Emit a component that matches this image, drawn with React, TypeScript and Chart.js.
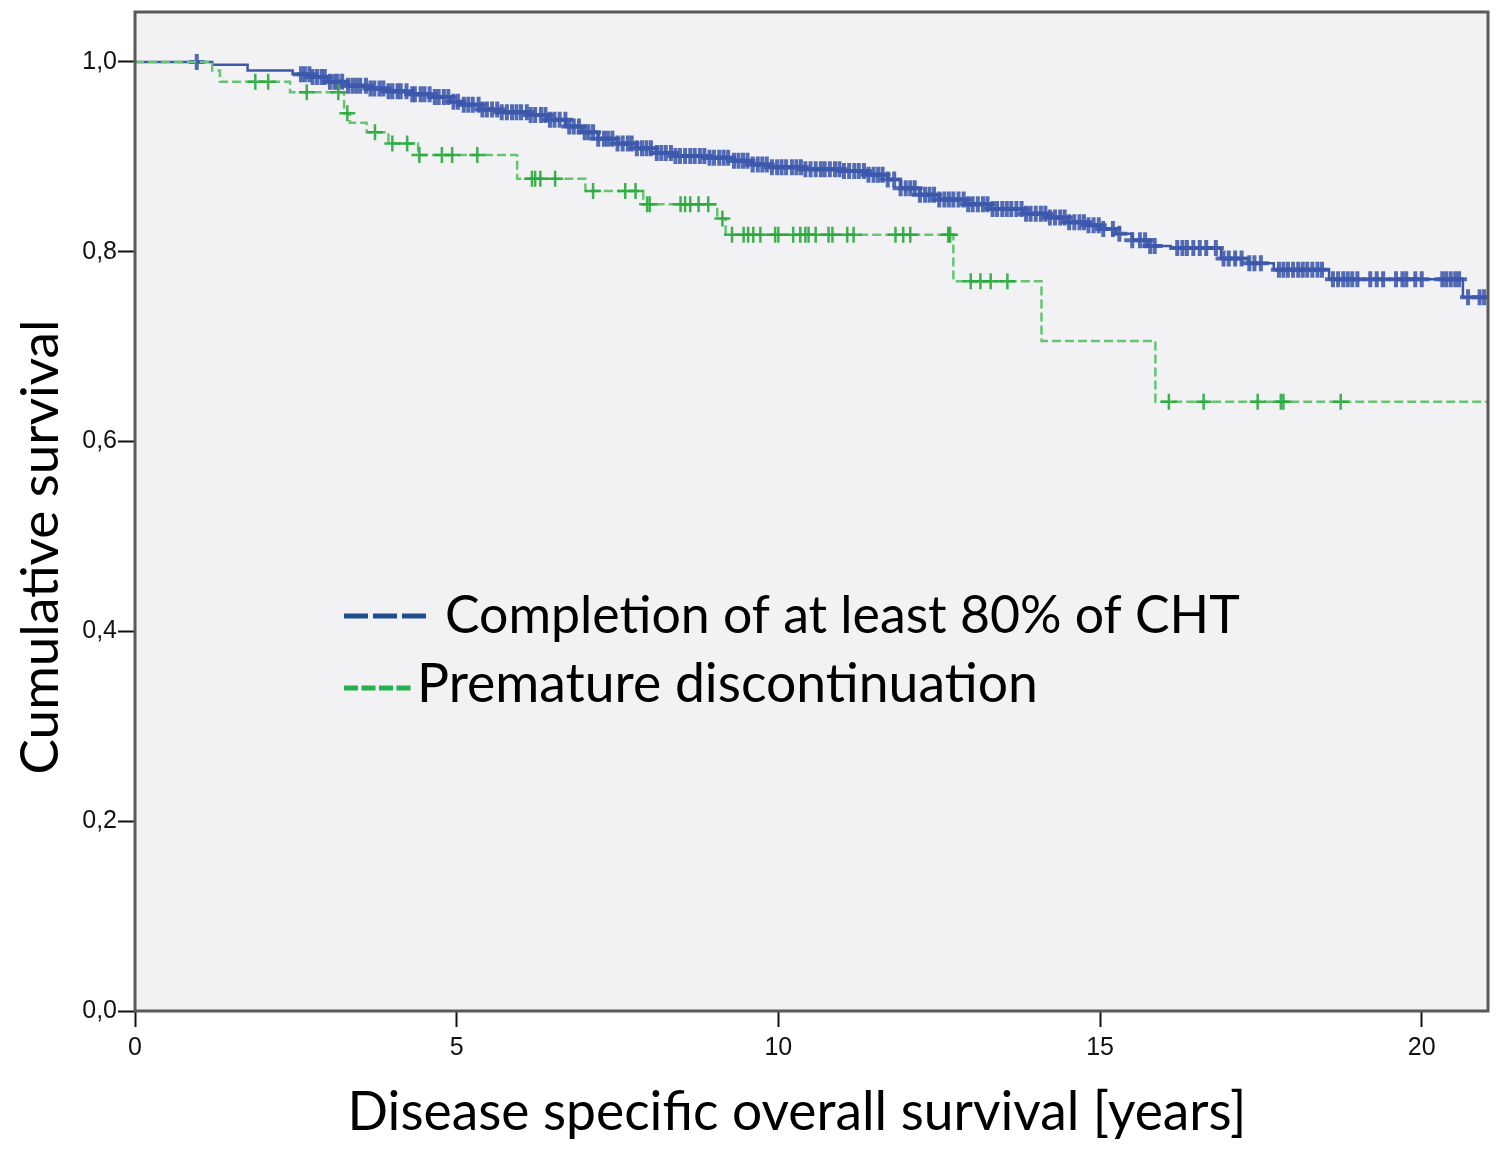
import React, { useEffect, useRef } from "react";
import { Chart, registerables } from "chart.js";

Chart.register(...registerables);

// Kaplan-Meier steps: survival holds from each time onwards
const completedTimes = [
  0, 1.2, 1.75, 2.45, 2.75, 3.0, 3.3, 3.6, 3.9, 4.3, 4.6, 4.9, 5.1, 5.4, 5.65,
  6.1, 6.4, 6.7, 6.95, 7.2, 7.5, 7.8, 8.1, 8.4, 8.9, 9.3, 9.6, 9.85, 10.4, 11.0,
  11.4, 11.7, 11.9, 12.2, 12.5, 12.9, 13.3, 13.8, 14.2, 14.5, 14.8, 15.0, 15.25,
  15.5, 15.75, 16.1, 16.88, 17.3, 17.7, 18.56, 20.64, 21.03,
];
const completedSurvival = [
  1.0, 0.997, 0.991, 0.987, 0.984, 0.979, 0.975, 0.972, 0.969, 0.966, 0.963,
  0.958, 0.955, 0.95, 0.947, 0.944, 0.939, 0.932, 0.926, 0.919, 0.914, 0.909,
  0.904, 0.901, 0.899, 0.896, 0.892, 0.889, 0.887, 0.885, 0.881, 0.876, 0.867,
  0.86, 0.855, 0.85, 0.845, 0.84, 0.836, 0.831, 0.828, 0.824, 0.819, 0.812,
  0.806, 0.804, 0.793, 0.788, 0.781, 0.771, 0.752, 0.752,
];
const completedCensored = [
  0.96, 2.58, 2.64, 2.71, 2.76, 2.83, 2.9, 2.95, 3.03, 3.1, 3.15, 3.22, 3.31,
  3.38, 3.44, 3.5, 3.59, 3.66, 3.72, 3.8, 3.86, 3.94, 4.0, 4.08, 4.13, 4.22,
  4.31, 4.35, 4.44, 4.5, 4.58, 4.66, 4.72, 4.8, 4.87, 4.95, 5.02, 5.11, 5.18,
  5.25, 5.34, 5.4, 5.47, 5.55, 5.63, 5.7, 5.78, 5.86, 5.93, 6.0, 6.09, 6.15,
  6.22, 6.31, 6.38, 6.45, 6.52, 6.6, 6.69, 6.75, 6.82, 6.9, 6.99, 7.05, 7.12,
  7.2, 7.29, 7.35, 7.42, 7.5, 7.58, 7.66, 7.72, 7.8, 7.88, 7.95, 8.02, 8.11,
  8.18, 8.25, 8.33, 8.4, 8.47, 8.55, 8.63, 8.7, 8.78, 8.85, 8.93, 9.0, 9.08,
  9.15, 9.22, 9.31, 9.38, 9.45, 9.52, 9.6, 9.68, 9.75, 9.82, 9.9, 9.98, 10.05,
  10.12, 10.21, 10.28, 10.35, 10.42, 10.5, 10.58, 10.66, 10.72, 10.8, 10.88,
  10.95, 11.02, 11.1, 11.18, 11.25, 11.33, 11.4, 11.48, 11.55, 11.62, 11.7,
  11.8, 11.9, 11.98, 12.05, 12.12, 12.2, 12.28, 12.35, 12.42, 12.5, 12.58,
  12.65, 12.72, 12.8, 12.88, 12.95, 13.02, 13.1, 13.18, 13.25, 13.33, 13.4,
  13.48, 13.55, 13.62, 13.7, 13.78, 13.85, 13.92, 14.0, 14.08, 14.15, 14.22,
  14.3, 14.38, 14.45, 14.52, 14.6, 14.68, 14.75, 14.82, 14.9, 14.98, 15.05,
  15.2, 15.3, 15.5, 15.62, 15.7, 15.78, 15.85, 16.2, 16.28, 16.35, 16.45, 16.55,
  16.65, 16.8, 16.92, 17.0, 17.1, 17.2, 17.32, 17.4, 17.5, 17.78, 17.85, 17.92,
  18.0, 18.08, 18.15, 18.22, 18.3, 18.38, 18.45, 18.62, 18.7, 18.78, 18.85,
  18.92, 19.0, 19.2, 19.3, 19.4, 19.6, 19.7, 19.76, 19.9, 20.0, 20.32, 20.38,
  20.45, 20.52, 20.58, 20.72, 20.9, 20.97,
];

const prematureTimes = [
  0, 1.2, 1.32, 2.41, 3.25, 3.34, 3.6, 3.94, 4.4, 5.94, 7.0, 7.9, 9.05, 9.18,
  12.72, 14.09, 15.86, 21.03,
];
const prematureSurvival = [
  1.0, 0.991, 0.979, 0.968, 0.946, 0.936, 0.926, 0.914, 0.902, 0.877, 0.864,
  0.85, 0.835, 0.818, 0.769, 0.706, 0.642, 0.642,
];
const prematureCensored = [
  1.87, 2.07, 2.67, 3.16, 3.3, 3.73, 4.0, 4.23, 4.42, 4.77, 4.93, 5.32, 6.17,
  6.22, 6.3, 6.53, 7.12, 7.62, 7.78, 7.96, 8.0, 8.48, 8.55, 8.63, 8.76, 8.91,
  9.13, 9.28, 9.46, 9.53, 9.61, 9.72, 9.95, 10.0, 10.23, 10.34, 10.42, 10.47,
  10.58, 10.78, 10.84, 11.07, 11.17, 11.82, 11.94, 12.05, 12.64, 12.67, 12.99,
  13.14, 13.3, 13.56, 16.07, 16.61, 17.45, 17.81, 17.85, 18.74,
];

const xTickValues = [0, 5, 10, 15, 20];
const yTickValues = [0, 0.2, 0.4, 0.6, 0.8, 1.0];
const yTickLabels = ["0,0", "0,2", "0,4", "0,6", "0,8", "1,0"];

const completedLabel = "Completion of at least 80% of CHT";
const prematureLabel = "Premature discontinuation";
const xTitle = "Disease specific overall survival [years]";
const yTitle = "Cumulative survival";

const survivalAt = (times: number[], surv: number[], t: number) => {
  let s = surv[0];
  for (let i = 0; i < times.length; i++) if (times[i] <= t) s = surv[i];
  return s;
};

const TEXT_FONT = "Lato, 'Open Sans', sans-serif";

// font size that makes a text span the given width
const fitSize = (ctx: CanvasRenderingContext2D, text: string, width: number) => {
  ctx.font = `100px ${TEXT_FONT}`;
  return (100 * width) / ctx.measureText(text).width;
};

const decorPlugin = {
  id: "decor",
  beforeDraw(chart: any) {
    const { ctx, chartArea: a } = chart;
    ctx.save();
    ctx.fillStyle = "#f2f2f4";
    ctx.fillRect(a.left, a.top, a.right - a.left, a.bottom - a.top);
    ctx.restore();
  },
  afterDraw(chart: any) {
    const { ctx, chartArea: a } = chart;
    ctx.save();
    ctx.strokeStyle = "#5a5a5a";
    ctx.lineWidth = 3;
    ctx.strokeRect(a.left, a.top, a.right - a.left, a.bottom - a.top);

    // legend
    ctx.lineWidth = 5;
    ctx.strokeStyle = "#1f4e8c";
    ctx.setLineDash([24, 5]);
    ctx.beginPath();
    ctx.moveTo(344, 616);
    ctx.lineTo(427, 616);
    ctx.stroke();
    ctx.strokeStyle = "#22b14c";
    ctx.setLineDash([14, 3.5]);
    ctx.beginPath();
    ctx.moveTo(344, 688);
    ctx.lineTo(412, 688);
    ctx.stroke();
    ctx.setLineDash([]);

    ctx.fillStyle = "#000";
    ctx.textBaseline = "alphabetic";
    ctx.textAlign = "left";
    let size = fitSize(ctx, completedLabel, 795);
    ctx.font = `${size}px ${TEXT_FONT}`;
    ctx.fillText(completedLabel, 445, 633);
    size = fitSize(ctx, prematureLabel, 621);
    ctx.font = `${size}px ${TEXT_FONT}`;
    ctx.fillText(prematureLabel, 417, 702);

    // axis titles
    size = fitSize(ctx, xTitle, 899);
    ctx.font = `${size}px ${TEXT_FONT}`;
    ctx.textAlign = "center";
    ctx.fillText(xTitle, 797, 1130);
    size = fitSize(ctx, yTitle, 455);
    ctx.font = `${size}px ${TEXT_FONT}`;
    ctx.translate(58, 547);
    ctx.rotate(-Math.PI / 2);
    ctx.fillText(yTitle, 0, 0);
    ctx.restore();
  },
};

const App: React.FC = () => {
  const canvasRef = useRef<HTMLCanvasElement | null>(null);

  useEffect(() => {
    document.body.style.margin = "0";
    if (!canvasRef.current) return;
    const ctx = canvasRef.current.getContext("2d");
    if (!ctx) return;

    const steps = (times: number[], surv: number[]) =>
      times.map((t, i) => ({ x: t, y: surv[i] }));
    const marks = (cens: number[], times: number[], surv: number[]) =>
      cens.map((t) => ({ x: t, y: survivalAt(times, surv, t) }));

    const chart = new Chart(ctx, {
      type: "line",
      data: {
        datasets: [
          {
            label: "Premature censored",
            data: marks(prematureCensored, prematureTimes, prematureSurvival),
            showLine: false,
            pointStyle: "cross",
            pointRadius: 8,
            pointBorderWidth: 2.5,
            pointBorderColor: "rgba(40,170,60,0.9)",
          },
          {
            label: prematureLabel,
            data: steps(prematureTimes, prematureSurvival),
            stepped: true,
            borderColor: "#66c473",
            borderWidth: 2.5,
            borderDash: [9, 4],
            pointRadius: 0,
          },
          {
            label: "Completed censored",
            data: marks(completedCensored, completedTimes, completedSurvival),
            showLine: false,
            pointStyle: "cross",
            pointRadius: 8,
            pointBorderWidth: 4,
            pointBorderColor: "rgba(60,88,172,0.88)",
          },
          {
            label: completedLabel,
            data: steps(completedTimes, completedSurvival),
            stepped: true,
            borderColor: "#3d58ab",
            borderWidth: 2.5,
            pointRadius: 0,
          },
        ],
      },
      options: {
        responsive: false,
        animation: false,
        layout: { padding: { top: 10, right: 9, left: 0, bottom: 0 } },
        scales: {
          x: {
            type: "linear",
            min: 0,
            max: 21.03,
            afterFit: (scale: any) => {
              scale.height = 158;
              scale.paddingLeft = 0;
              scale.paddingRight = 0;
            },
            afterBuildTicks: (scale: any) => {
              scale.ticks = xTickValues.map((v) => ({ value: v }));
            },
            ticks: {
              color: "#111",
              padding: 6,
              maxRotation: 0,
              font: { family: "'Liberation Sans', Arial, sans-serif", size: 25 },
              callback: (v: any) => String(v),
            },
            grid: {
              drawOnChartArea: false,
              tickLength: 16,
              tickColor: "#111",
              tickWidth: 2,
            },
            border: { display: false },
          },
          y: {
            type: "linear",
            min: 0,
            max: 1.0526,
            afterFit: (scale: any) => {
              scale.width = 135;
              scale.paddingTop = 0;
              scale.paddingBottom = 0;
            },
            afterBuildTicks: (scale: any) => {
              scale.ticks = yTickValues.map((v) => ({ value: v }));
            },
            ticks: {
              color: "#111",
              padding: 1,
              font: { family: "'Liberation Sans', Arial, sans-serif", size: 25 },
              callback: (_v: any, i: number) => yTickLabels[i],
            },
            grid: {
              drawOnChartArea: false,
              tickLength: 17,
              tickColor: "#111",
              tickWidth: 2,
            },
            border: { display: false },
          },
        },
        plugins: {
          legend: { display: false },
          tooltip: { enabled: false },
        },
      },
      plugins: [decorPlugin],
    });

    return () => {
      chart.destroy();
    };
  }, []);

  return (
    <div style={{ width: 1500, height: 1169, background: "#fff" }}>
      <canvas ref={canvasRef} width={1500} height={1169}></canvas>
    </div>
  );
};

export default App;
